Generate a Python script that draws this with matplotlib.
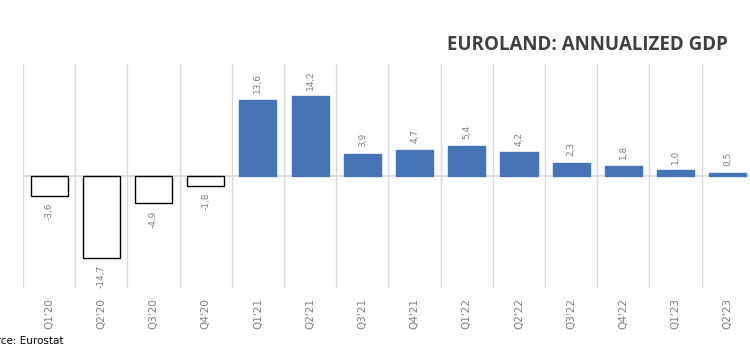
import numpy as np
import matplotlib.pyplot as plt

# ---- Datos ----
quarters = ["Q1'20", "Q2'20", "Q3'20", "Q4'20", "Q1'21", "Q2'21", "Q3'21",
            "Q4'21", "Q1'22", "Q2'22", "Q3'22", "Q4'22", "Q1'23", "Q2'23"]
gdp = [-3.6, -14.7, -4.9, -1.8, 13.6, 14.2, 3.9, 4.7, 5.4, 4.2, 2.3, 1.8, 1.0, 0.5]

fig = plt.figure(figsize=(7.5, 3.62), dpi=100)
ax = fig.add_axes([0.0307, 0.2044, 0.9745, 0.6188])

x = np.arange(len(quarters))
face = ['white' if v < 0 else '#4674B7' for v in gdp]
edge = ['black' if v < 0 else '#4674B7' for v in gdp]
ax.bar(x, gdp, width=0.71, color=face, edgecolor=edge, linewidth=1.0, zorder=3)

# lineas verticales entre categorias
for b in np.arange(-0.5, len(quarters) + 0.5, 1):
    ax.axvline(b, color='#d9d9d9', linewidth=1.0, zorder=1)
ax.axhline(0, color='#d9d9d9', linewidth=1.2, zorder=2)

for xi, v in zip(x, gdp):
    txt = ('%.1f' % v).replace('.', ',')
    if v >= 0:
        ax.text(xi, v + 1.2, txt, rotation=90, ha='center', va='bottom',
                fontsize=6.5, color='#7f7f7f')
    else:
        ax.text(xi, v - 1.2, txt, rotation=90, ha='center', va='top',
                fontsize=6.5, color='#7f7f7f')

ax.set_xlim(-0.5, len(quarters) - 0.5)
ax.set_ylim(-20, 20)
ax.set_xticks(x)
ax.set_xticklabels(quarters, rotation=90, fontsize=7.5, color='#7f7f7f')
ax.tick_params(axis='x', length=0, pad=7)
ax.set_yticks([])
for s in ax.spines.values():
    s.set_visible(False)

fig.text(0.970, 0.862, 'EUROLAND: ANNUALIZED GDP', ha='right', va='baseline',
         fontsize=13.5, fontweight='bold', color='#404040', family='Open Sans')
fig.text(-0.031, 0.05, 'Source: Eurostat', ha='left', va='baseline',
         fontsize=7.5, color='black')

fig.savefig('out.png', dpi=100)
